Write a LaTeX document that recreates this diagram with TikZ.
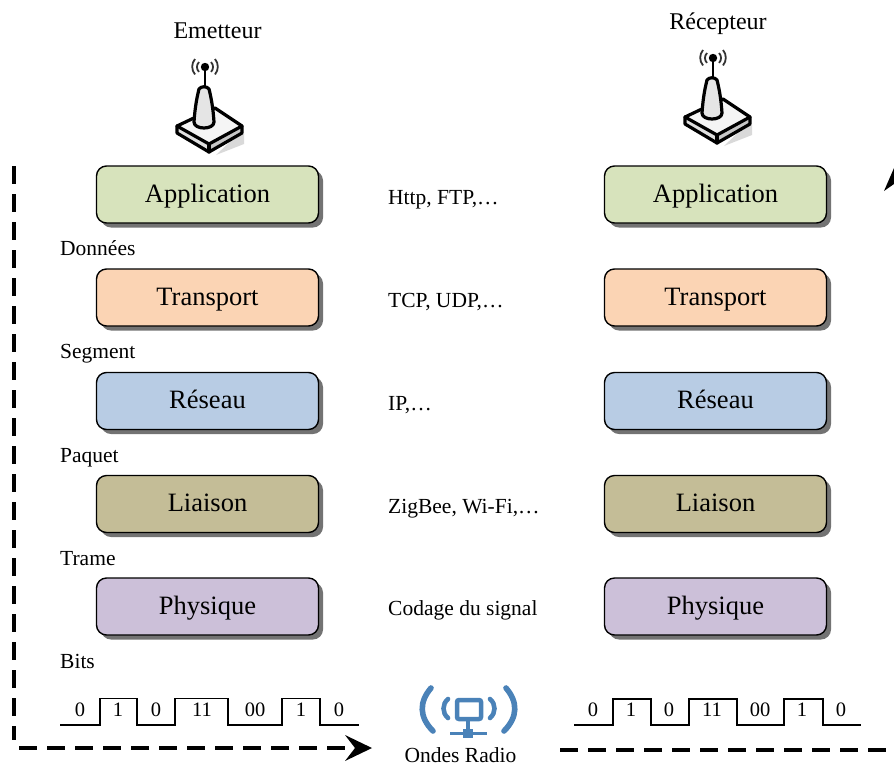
\documentclass[tikz,border=0pt]{standalone}
\usepackage{fontspec}
\setmainfont{Liberation Serif}
\definecolor{cApp}{HTML}{D7E3BC}
\definecolor{cTra}{HTML}{FBD4B4}
\definecolor{cRes}{HTML}{B8CCE4}
\definecolor{cLia}{HTML}{C4BD97}
\definecolor{cPhy}{HTML}{CCC0D9}
\definecolor{cRadio}{HTML}{4A82B8}
\tikzset{
  layer/.style={draw=black,line width=1.4pt,rounded corners=10pt,minimum width=222pt,minimum height=57pt,inner sep=0pt,
    font=\fontsize{26.5}{26.5}\selectfont,anchor=center,text height=20pt,text depth=5pt},
  laybox/.style={layer,preaction={draw=none,fill=black!55,rounded corners=10pt,transform canvas={shift={(4.5pt,-4.5pt)}}}},
  lab/.style={font=\fontsize{21.5}{21.5}\selectfont,anchor=base west,inner sep=0pt},
  title/.style={font=\fontsize{24}{24}\selectfont,inner sep=0pt},
  digit/.style={font=\fontsize{20.5}{20.5}\selectfont,inner sep=0pt},
  wave/.style={line width=1.5pt,line join=miter},
  flow/.style={line width=4pt,dash pattern=on 18pt off 10pt},
  ant/.style={line width=3.2pt,line join=round,line cap=round},
  radio/.style={cRadio,line width=3.4pt,line cap=round}
}
\newcommand{\antennaicon}[2]{%
  \begin{scope}[shift={(#1,#2)}]
    \fill[black!15] (40,42) -- (40,52) -- (12,63) -- (34,42) -- cycle;
    \fill[black!22] (-27,41) -- (5,60) -- (38,41) -- (38,34) -- (-27,34) -- cycle;
    \fill[white!88!black] (-27,34) -- (5,52) -- (5,60) -- (-27,41) -- cycle;
    \draw[ant] (-27,34) -- (-27,41) -- (5,60) -- (38,41) -- (38,34);
    \draw[ant] (5,52) -- (5,60);
    \fill[white!96!black,draw=black,ant] (-27,34) -- (11,16) -- (38,34) -- (5,52) -- cycle;
    \fill[white!90!black,draw=black,ant] (-10,30) .. controls (-9,15) and (-7,5) .. (-5,-3)
      .. controls (-3,-6) and (3,-6) .. (5,-3)
      .. controls (7,5) and (9,15) .. (10,30)
      .. controls (10,38) and (-10,38) .. (-10,30) -- cycle;
    \draw[line width=2.2pt] (1,-5) -- (1,-25);
    \fill (1,-25) circle (4.2pt);
    \draw[line width=1.8pt,black!80] (-5,-30) arc[start angle=135,end angle=225,radius=7pt];
    \draw[line width=1.8pt,black!80] (7,-30) arc[start angle=45,end angle=-45,radius=7pt];
    \draw[line width=1.8pt,black!80] (-9,-33) arc[start angle=140,end angle=220,radius=12pt];
    \draw[line width=1.8pt,black!80] (11,-33) arc[start angle=40,end angle=-40,radius=12pt];
  \end{scope}}
\begin{document}
\begin{tikzpicture}[x=1pt,y=-1pt]
\useasboundingbox (0,0) rectangle (894,764);
\node[title] (em) at (217.5,31) {Emetteur};
\node[title] (re) at (718,24) {Récepteur};
\antennaicon{204}{92}
\antennaicon{712}{83}
% layers
\node[laybox,fill=cApp] (a1) at (207.5,194.5) {Application};
\node[laybox,fill=cTra] (t1) at (207.5,297.5) {Transport};
\node[laybox,fill=cRes] (r1) at (207.5,401) {Réseau};
\node[laybox,fill=cLia] (l1) at (207.5,504) {Liaison};
\node[laybox,fill=cPhy] (p1) at (207.5,606.5) {Physique};
\node[laybox,fill=cApp] (a2) at (715.5,194.5) {Application};
\node[laybox,fill=cTra] (t2) at (715.5,297.5) {Transport};
\node[laybox,fill=cRes] (r2) at (715.5,401) {Réseau};
\node[laybox,fill=cLia] (l2) at (715.5,504) {Liaison};
\node[laybox,fill=cPhy] (p2) at (715.5,606.5) {Physique};
% protocol labels
\node[lab] (pa) at (388,204.5) {Http, FTP,…};
\node[lab] (pt) at (388,307.5) {TCP, UDP,…};
\node[lab] (pr) at (388,410.5) {IP,…};
\node[lab] (pl) at (388,513.5) {ZigBee, Wi-Fi,…};
\node[lab] (pp) at (388,615.5) {Codage du signal};
% data units
\node[lab] (d1) at (60,255) {Données};
\node[lab] (d2) at (60,358.5) {Segment};
\node[lab] (d3) at (60,462) {Paquet};
\node[lab] (d4) at (60,565.5) {Trame};
\node[lab] (d5) at (60,668.5) {Bits};
% square waves
\draw[wave] (60,725) -- (100,725) -- (100,698.5) -- (137,698.5) -- (137,725) -- (175,725) -- (175,698.5) -- (228,698.5) -- (228,725) -- (282,725) -- (282,698.5) -- (320,698.5) -- (320,725) -- (359,725);
\draw[wave] (574,725) -- (613,725) -- (613,699) -- (651,699) -- (651,725) -- (689,725) -- (689,699) -- (737,699) -- (737,725) -- (784,725) -- (784,699) -- (823,699) -- (823,725) -- (861,725);
\foreach \n/\x/\t in {a/80/0,b/118/1,c/156/0,d/202/11,e/255/00,f/301/1,g/339/0}
  \node[digit] (w1\n) at (\x,710) {\t};
\foreach \n/\x/\t in {a/593/0,b/631/1,c/669/0,d/712/11,e/760/00,f/802/1,g/841/0}
  \node[digit] (w2\n) at (\x,710) {\t};
% radio icon
\begin{scope}
  \draw[radio,line width=4.5pt,rounded corners=2pt] (457,700) rectangle (481,719);
  \draw[radio,line cap=butt] (468,721) -- (468,732);
  \draw[radio,line cap=butt,line width=3.6pt] (450,733.5) -- (487,733.5);
  \fill[cRadio] (463,729) rectangle (473,738);
  \draw[radio,line width=4.6pt] (448,699) .. controls (442,704) and (442,713) .. (448,718);
  \draw[radio,line width=4.6pt] (490,699) .. controls (496,704) and (496,713) .. (490,718);
  \draw[radio,line width=5.6pt] (431,688) .. controls (419,702) and (419,717) .. (433,731);
  \draw[radio,line width=5.6pt] (506,688) .. controls (518,702) and (518,717) .. (504,731);
\end{scope}
\node[lab,anchor=base] (on) at (460.5,762) {Ondes Radio};
% flow arrows
\coordinate (fa) at (14,166);
\coordinate (fb) at (14,740);
\coordinate (fc) at (348,748);
\coordinate (fd) at (560,750);
\coordinate (fe) at (886,750);
\draw[flow] (fa) -- (fb);
\draw[flow] (19,748) -- (fc);
\fill (372,748) -- (345,735) -- (355,748) -- (345,761) -- cycle;
\draw[flow] (fd) -- (fe);
\fill (884,191) -- (894,168) -- (894,184) -- cycle;
\end{tikzpicture}
\end{document}
